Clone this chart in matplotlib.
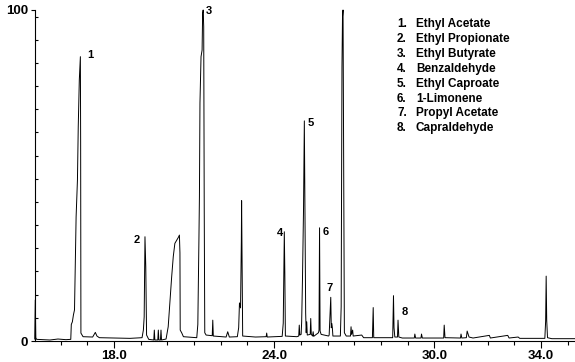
import matplotlib
matplotlib.use('Agg')
import matplotlib.pyplot as plt
from matplotlib.ticker import MultipleLocator, FixedLocator

plt.rcParams['font.family'] = ['Liberation Sans', 'DejaVu Sans']

# chromatogram trace (retention time in min, relative abundance %)
rt = [15.03, 15.05, 15.07, 15.10, 15.6, 15.9, 16.2, 16.38,
      16.40, 16.44, 16.48, 16.52, 16.58, 16.63, 16.66, 16.70, 16.74, 16.75, 16.76, 16.84,
      17.20, 17.30, 17.36, 17.45, 18.0, 18.6, 19.05,
      19.10, 19.13, 19.16, 19.19, 19.22, 19.30, 19.49, 19.51, 19.53, 19.64, 19.66, 19.68,
      19.74, 19.76, 19.78, 19.95,
      20.03, 20.10, 20.16, 20.22, 20.28, 20.35, 20.41, 20.45, 20.47, 20.48, 20.54, 20.60, 21.10,
      21.14, 21.16, 21.18, 21.20, 21.22, 21.26, 21.30, 21.32, 21.34, 21.36, 21.38, 21.40, 21.45,
      21.68, 21.70, 21.72, 22.20, 22.26, 22.32, 22.62,
      22.67, 22.70, 22.74, 22.77, 22.78, 22.80, 22.82, 23.30, 23.70, 23.72, 23.74, 24.30,
      24.34, 24.38, 24.40, 24.42, 24.85, 24.92, 24.94, 24.96,
      25.01, 25.03, 25.06, 25.10, 25.13, 25.16, 25.18, 25.20, 25.22, 25.24,
      25.35, 25.37, 25.39, 25.44, 25.46, 25.48,
      25.66, 25.68, 25.70, 25.72, 25.76,
      26.04, 26.06, 26.12, 26.14, 26.16, 26.18, 26.20,
      26.48, 26.51, 26.54, 26.56, 26.58, 26.61, 26.63, 26.70,
      26.86, 26.88, 26.90, 26.94, 26.96, 27.28, 27.35,
      27.68, 27.71, 27.73, 28.44, 28.47, 28.49, 28.52, 28.62, 28.64, 28.67, 28.80,
      29.25, 29.27, 29.30, 29.50, 29.52, 29.55, 30.35, 30.37, 30.40,
      30.98, 31.00, 31.03, 31.20, 31.23, 31.30, 31.45, 32.06, 32.10, 32.75, 32.80,
      33.14, 33.20, 34.14, 34.17, 34.19, 34.21, 34.24, 34.40, 35.30]
abundance = [0.6, 12.4, 1.0, 0.5, 0.3, 0.6, 0.4, 0.5,
             5.0, 5.8, 7.9, 9.4, 37.5, 48.6, 64.7, 78.9, 85.9, 60.0, 2.4, 1.3,
             1.2, 2.6, 1.5, 1.0, 0.9, 0.8, 1.0,
             3.3, 7.3, 31.5, 22.4, 1.8, 0.5, 0.3, 3.3, 0.3, 0.3, 3.3, 0.3,
             0.3, 3.3, 0.3, 0.6,
             4.3, 12.4, 19.4, 25.5, 29.5, 30.5, 31.3, 32.0, 26.6, 3.3, 2.4, 1.3, 1.0,
             5.0, 16.4, 30.0, 43.6, 71.9, 85.9, 87.9, 99.0, 100.0, 95.0, 40.0, 2.5, 1.8,
             1.6, 6.3, 1.5, 1.2, 2.8, 1.2, 1.3,
             4.0, 11.5, 10.0, 30.0, 42.4, 20.0, 1.5, 1.2, 1.3, 2.4, 1.2, 1.4,
             5.4, 33.0, 20.0, 1.5, 1.3, 1.5, 4.8, 1.8,
             2.0, 5.8, 18.4, 40.0, 66.5, 30.0, 8.4, 2.5, 5.8, 1.8,
             2.0, 6.8, 2.0, 1.5, 2.8, 1.4,
             2.5, 3.3, 34.2, 3.0, 2.0,
             1.5, 1.8, 13.2, 4.0, 5.3, 4.0, 1.5,
             1.5, 10.4, 82.9, 98.0, 100.0, 37.5, 2.5, 1.5,
             1.5, 4.3, 2.0, 3.3, 1.5, 1.8, 1.0,
             1.0, 10.1, 1.0, 1.0, 13.7, 4.0, 1.2, 1.2, 6.3, 1.2, 0.9,
             0.9, 2.1, 0.9, 0.9, 2.1, 0.9, 0.9, 4.8, 1.0,
             0.9, 2.1, 0.9, 1.0, 3.0, 1.2, 0.9, 1.7, 0.9, 1.7, 0.9,
             1.2, 0.8, 0.8, 6.0, 19.6, 6.3, 1.0, 0.7, 0.7]

# peak numbers placed next to the peaks
peak_ids = ['1', '2', '3', '4', '5', '6', '7', '8']
peak_label_rt = [17.10, 18.86, 21.56, 24.22, 25.38, 25.94, 26.09, 28.90]
peak_label_y = [86.4, 30.5, 99.7, 32.6, 65.9, 32.9, 16.0, 8.8]

compounds = ['Ethyl Acetate', 'Ethyl Propionate', 'Ethyl Butyrate', 'Benzaldehyde',
             'Ethyl Caproate', '1-Limonene', 'Propyl Acetate', 'Capraldehyde']

xticks_labeled = [18.0, 24.0, 30.0, 34.0]
yticks_labeled = [0, 100]

W, H = 575, 362
fig = plt.figure(figsize=(W / 100, H / 100), dpi=100)
ax = fig.add_axes([35 / W, 1 - 341 / H, 540 / W, 331 / H])

ax.plot(rt, abundance, color='black', linewidth=0.7, clip_on=False)

for pid, x, y in zip(peak_ids, peak_label_rt, peak_label_y):
    ax.text(x, y, pid, fontsize=8, fontweight='bold', ha='center', va='center')

for i, name in enumerate(compounds):
    ytop = 1 - (24 + i * 14.9) / H
    fig.text(397 / W, ytop, str(i + 1) + '.', fontsize=8.5, fontweight='bold', va='center')
    fig.text(416 / W, ytop, name, fontsize=8.5, fontweight='bold', va='center')

ax.set_xlim(15.04, 35.27)
ax.set_ylim(0, 100)
ax.spines['top'].set_visible(False)
ax.spines['right'].set_visible(False)
ax.spines['left'].set_linewidth(0.8)
ax.spines['bottom'].set_linewidth(0.8)

ax.xaxis.set_major_locator(FixedLocator(xticks_labeled))
ax.set_xticklabels(['%.1f' % v for v in xticks_labeled])
ax.xaxis.set_minor_locator(MultipleLocator(1.0))
ax.yaxis.set_major_locator(FixedLocator(yticks_labeled))
ax.set_yticklabels([str(v) for v in yticks_labeled])
ax.yaxis.set_minor_locator(MultipleLocator(7))

ax.tick_params(axis='x', which='major', length=5, width=0.8, pad=1.5, labelsize=9.5)
ax.tick_params(axis='x', which='minor', length=3, width=0.8)
ax.tick_params(axis='y', which='major', length=3, width=0.8, pad=2, labelsize=9.5)
ax.tick_params(axis='y', which='minor', direction='in', length=2, width=0.8)
for lab in ax.get_xticklabels() + ax.get_yticklabels():
    lab.set_fontweight('bold')

fig.savefig('out.png', dpi=100)
